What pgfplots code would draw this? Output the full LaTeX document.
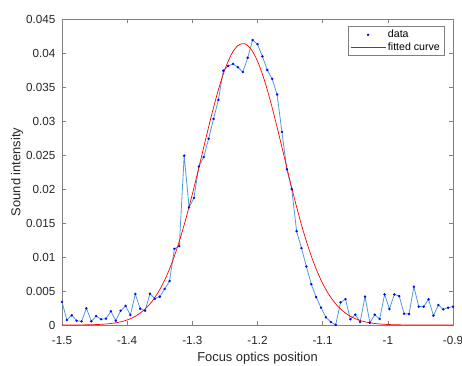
\documentclass[border=0pt]{standalone}
\usepackage{fontspec}
\setmainfont{Liberation Sans}
\usepackage{pgfplots}
\usepackage{pgfplotstable}
\pgfplotsset{compat=1.18}
\definecolor{mlblue}{RGB}{80,155,215}
\definecolor{axgray}{RGB}{128,128,128}
\definecolor{txtgray}{RGB}{38,38,38}

\pgfplotstableread{
x y
-15000 0.0034
-14925 0.00074
-14850 0.00143
-14775 0.00063
-14700 0.00054
-14625 0.00246
-14550 0.00054
-14475 0.00132
-14400 0.00084
-14325 0.00093
-14250 0.00201
-14175 0.00063
-14100 0.0021
-14025 0.0028
-13950 0.00147
-13875 0.00456
-13800 0.0024
-13725 0.0021
-13650 0.0046
-13575 0.00387
-13500 0.00416
-13425 0.0053
-13350 0.00647
-13275 0.0112
-13200 0.0116
-13125 0.0249
-13050 0.0173
-12975 0.0187
-12900 0.0233
-12825 0.0247
-12750 0.0274
-12675 0.0303
-12600 0.0331
-12525 0.0374
-12450 0.0381
-12375 0.0384
-12300 0.0379
-12225 0.0372
-12150 0.0393
-12075 0.0419
-12000 0.0413
-11925 0.0395
-11850 0.0375
-11775 0.0362
-11700 0.0339
-11625 0.0284
-11550 0.0229
-11475 0.0200
-11400 0.0138
-11325 0.0113
-11250 0.0086
-11175 0.0060
-11100 0.0041
-11025 0.00255
-10950 0.00113
-10875 0.00044
-10800 0.00003
-10725 0.00333
-10650 0.0038
-10575 0.00084
-10500 0.00152
-10425 0.00044
-10350 0.00416
-10275 0.00034
-10200 0.00152
-10125 0.00088
-10050 0.0045
-9975 0.00235
-9900 0.0045
-9825 0.00426
-9750 0.00166
-9675 0.00162
-9600 0.00563
-9525 0.0027
-9450 0.0027
-9375 0.00378
-9300 0.00137
-9225 0.00294
-9150 0.0023
-9075 0.00255
-9000 0.0027
}\datatable

\pgfplotstableread{
x y
-15000 0.0000022
-14900 0.0000045
-14800 0.0000088
-14700 0.0000167
-14600 0.000031
-14500 0.000056
-14400 0.000099
-14300 0.00017
-14200 0.000285
-14100 0.000466
-14000 0.000743
-13900 0.001154
-13800 0.001748
-13700 0.002579
-13600 0.003711
-13500 0.005205
-13400 0.007113
-13300 0.009476
-13200 0.01231
-13100 0.01559
-13000 0.01924
-12900 0.02315
-12800 0.02715
-12700 0.03104
-12600 0.03460
-12500 0.03759
-12400 0.03981
-12300 0.04110
-12200 0.04137
-12100 0.04058
-12000 0.03881
-11900 0.03618
-11800 0.03288
-11700 0.02912
-11600 0.02515
-11500 0.02117
-11400 0.01737
-11300 0.01390
-11200 0.01084
-11100 0.008235
-11000 0.006101
-10900 0.004408
-10800 0.003104
-10700 0.002130
-10600 0.001425
-10500 0.000929
-10400 0.000591
-10300 0.000366
-10200 0.000221
-10100 0.000130
-10000 0.000075
-9900 0.000042
-9800 0.000023
-9700 0.000012
-9600 0.0000063
-9500 0.0000032
-9400 0.0000015
-9200 0.0000003
-9000 0.0
}\fittable

\begin{document}
\begin{tikzpicture}
\begin{axis}[
  at={(0,0)}, anchor=south west,
  scale only axis, width=391pt, height=306pt,
  xmin=-15000, xmax=-9000, ymin=0, ymax=0.045,
  xtick={-15000,-14000,-13000,-12000,-11000,-10000,-9000},
  xticklabels={-1.5,-1.4,-1.3,-1.2,-1.1,-1,-0.9},
  ytick={0,0.005,0.01,0.015,0.02,0.025,0.03,0.035,0.04,0.045},
  scaled x ticks=false,
  scaled y ticks=false,
  yticklabel style={/pgf/number format/fixed, /pgf/number format/precision=3, inner sep=0pt, anchor=east, xshift=-6.5pt},
  xticklabel style={inner sep=0pt, anchor=north, yshift=-11pt},
  /pgf/number format/assume math mode=true,
  tick label style={font=\fontsize{11.7}{14}\selectfont, text=txtgray},
  axis line style={axgray, line width=0.6pt},
  tick style={axgray, line width=0.6pt},
  major tick length=4pt,
  xlabel={Focus optics position},
  ylabel={Sound intensity},
  xlabel style={at={(axis description cs:0.5,-0.0882)}, anchor=north, inner sep=0pt, font=\fontsize{12.9}{15}\selectfont, text=txtgray},
  ylabel style={at={(axis description cs:-0.1151,0.5)}, anchor=center, inner sep=0pt, font=\fontsize{12.9}{15}\selectfont, text=txtgray},
  legend image code/.code={\draw[mark repeat=2, mark phase=2, #1] plot coordinates {(0pt,0pt) (17.5pt,0pt) (35pt,0pt)};},
  legend style={at={(0.977,0.977)}, anchor=north east, draw=axgray,
    font=\fontsize{10.6}{12}\selectfont, inner sep=2pt, row sep=-1pt,
    /tikz/every even column/.append style={column sep=1pt}},
  legend cell align=left,
]
\addplot[mlblue, line width=0.8pt, forget plot] table[x=x, y=y] {\datatable};
\addplot[only marks, mark=*, mark size=1pt, blue] table[x=x, y=y] {\datatable};
\addlegendentry{data}
\addplot[draw=red, color=red, line width=0.7pt, smooth] table[x=x, y=y] {\fittable};
\addlegendentry{fitted curve}
\node[anchor=north east, inner sep=0pt, text=txtgray, font=\fontsize{10.6}{12}\selectfont, yshift=-20pt] at (rel axis cs:1,0) {×10\textsuperscript{4}};
\end{axis}
\pgfresetboundingbox
\useasboundingbox (-62pt,-40pt) rectangle (400pt,325pt);
\end{tikzpicture}
\end{document}
